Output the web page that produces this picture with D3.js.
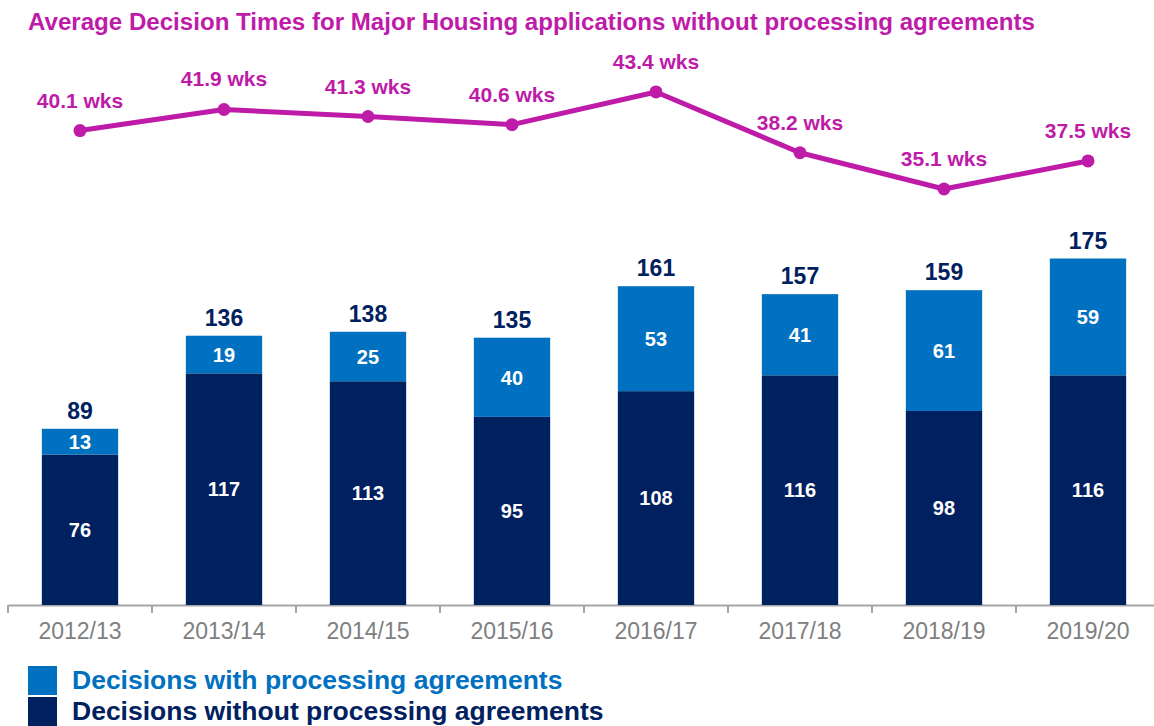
<!DOCTYPE html>
<html>
<head>
<meta charset="utf-8">
<script src="https://cdn.jsdelivr.net/npm/d3@7"></script>
<style>
  body { margin: 0; background: #fff; }
  svg { display: block; font-family: "Liberation Sans", Arial, sans-serif; }
</style>
</head>
<body>
<svg class="chart"></svg>
<script>
const years = ["2012/13", "2013/14", "2014/15", "2015/16", "2016/17", "2017/18", "2018/19", "2019/20"];
const withAgreements = [13, 19, 25, 40, 53, 41, 61, 59];
const withoutAgreements = [76, 117, 113, 95, 108, 116, 98, 116];
const avgWeeks = [40.1, 41.9, 41.3, 40.6, 43.4, 38.2, 35.1, 37.5];

const width = 1154;
const height = 726;
const baseline = 605;

const magenta = "#bf1ba9";
const lightBlue = "#0070c0";
const navy = "#002060";

const data = years.map((y, i) => ({
  year: y,
  without: withoutAgreements[i],
  with: withAgreements[i],
  total: withoutAgreements[i] + withAgreements[i],
  weeks: avgWeeks[i]
}));

const svg = d3.select(".chart")
    .attr("width", width)
    .attr("height", height);

const x = d3.scaleBand()
    .domain(years)
    .range([8, 1160])
    .paddingInner(0.47)
    .paddingOuter(0.235);

const y = d3.scaleLinear()
    .domain([0, 180])
    .range([baseline, baseline - 180 * 1.98]);

const yLine = d3.scaleLinear()
    .domain([30, 50])
    .range([248.6, 14.8]);

// title
svg.append("text")
    .attr("x", 28)
    .attr("y", 30)
    .attr("fill", magenta)
    .attr("font-size", 23)
    .attr("font-weight", "bold")
    .attr("textLength", 1007)
    .attr("lengthAdjust", "spacingAndGlyphs")
    .text("Average Decision Times for Major Housing applications without processing agreements");

// x axis
const xAxis = d3.axisBottom(x).tickSize(0).tickPadding(18);
const axis = svg.append("g")
    .attr("transform", `translate(0,${ baseline })`)
    .call(xAxis);
axis.select(".domain").attr("stroke", "#a6a6a6").attr("stroke-width", 2);
axis.selectAll("text")
    .attr("fill", "#808080")
    .attr("font-size", 23)
    .attr("font-family", "Liberation Sans, Arial, sans-serif");

const gap = (x.step() - x.bandwidth()) / 2;
axis.selectAll(".boundary")
    .data(years)
  .enter().append("line")
    .attr("class", "boundary")
    .attr("x1", (d) => x(d) - gap)
    .attr("x2", (d) => x(d) - gap)
    .attr("y1", 0)
    .attr("y2", 8)
    .attr("stroke", "#a6a6a6")
    .attr("stroke-width", 2);

// stacked bars
const bar = svg.selectAll(".bar")
    .data(data)
  .enter().append("g")
    .attr("class", "bar")
    .attr("transform", (d) => `translate(${ x(d.year) },0)`);

bar.append("rect")
    .attr("y", (d) => y(d.without))
    .attr("height", (d) => y(0) - y(d.without))
    .attr("width", x.bandwidth())
    .attr("fill", navy);

bar.append("rect")
    .attr("y", (d) => y(d.total))
    .attr("height", (d) => y(d.without) - y(d.total))
    .attr("width", x.bandwidth())
    .attr("fill", lightBlue);

bar.append("text")
    .attr("x", x.bandwidth() / 2)
    .attr("y", (d) => (y(0) + y(d.without)) / 2)
    .attr("dy", "0.36em")
    .attr("text-anchor", "middle")
    .attr("fill", "#fff")
    .attr("font-size", 20)
    .attr("font-weight", "bold")
    .text((d) => d.without);

bar.append("text")
    .attr("x", x.bandwidth() / 2)
    .attr("y", (d) => (y(d.without) + y(d.total)) / 2)
    .attr("dy", "0.36em")
    .attr("text-anchor", "middle")
    .attr("fill", "#fff")
    .attr("font-size", 20)
    .attr("font-weight", "bold")
    .text((d) => d.with);

bar.append("text")
    .attr("x", x.bandwidth() / 2)
    .attr("y", (d) => y(d.total) - 10)
    .attr("text-anchor", "middle")
    .attr("fill", navy)
    .attr("font-size", 23)
    .attr("font-weight", "bold")
    .text((d) => d.total);

// line series
const cx = (d) => x(d.year) + x.bandwidth() / 2;
const line = d3.line()
    .x(cx)
    .y((d) => yLine(d.weeks));

svg.append("path")
    .datum(data)
    .attr("fill", "none")
    .attr("stroke", magenta)
    .attr("stroke-width", 5)
    .attr("stroke-linejoin", "round")
    .attr("d", line);

svg.selectAll(".dot")
    .data(data)
  .enter().append("circle")
    .attr("class", "dot")
    .attr("cx", cx)
    .attr("cy", (d) => yLine(d.weeks))
    .attr("r", 6.5)
    .attr("fill", magenta);

svg.selectAll(".wks")
    .data(data)
  .enter().append("text")
    .attr("class", "wks")
    .attr("x", cx)
    .attr("y", (d) => yLine(d.weeks) - 23)
    .attr("text-anchor", "middle")
    .attr("fill", magenta)
    .attr("font-size", 21)
    .attr("font-weight", "bold")
    .text((d) => `${ d.weeks.toFixed(1) } wks`);

// legend
const legendItems = [
  {label: "Decisions with processing agreements", color: lightBlue},
  {label: "Decisions without processing agreements", color: navy}
];

const legend = svg.selectAll(".legend")
    .data(legendItems)
  .enter().append("g")
    .attr("class", "legend")
    .attr("transform", (d, i) => `translate(28,${ 666 + i * 31 })`);

legend.append("rect")
    .attr("width", 29)
    .attr("height", 29)
    .attr("fill", (d) => d.color);

legend.append("text")
    .attr("x", 44)
    .attr("y", 23)
    .attr("fill", (d) => d.color)
    .attr("font-size", 26.5)
    .attr("font-weight", "bold")
    .text((d) => d.label);
</script>
</body>
</html>
